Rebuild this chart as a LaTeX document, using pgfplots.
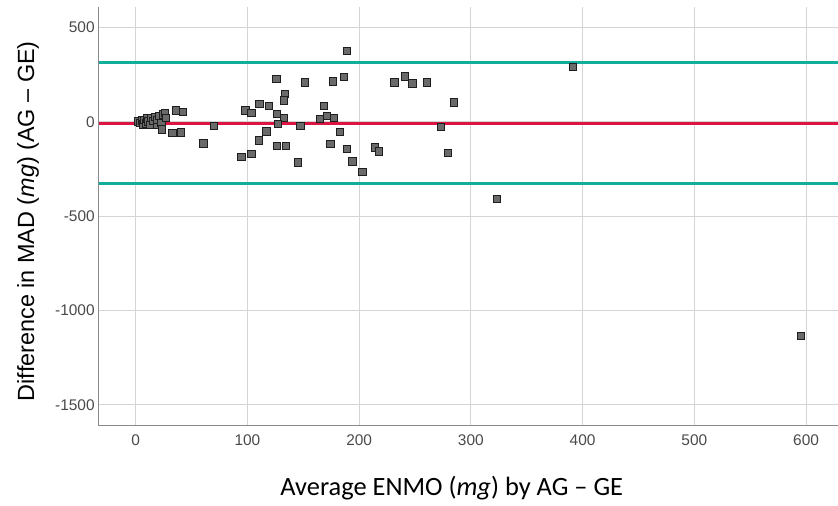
\documentclass[border=0pt]{standalone}
\usepackage{fontspec}
\setmainfont{Liberation Sans}
\newfontfamily\calibri{Carlito}
\usepackage{pgfplots}
\pgfplotsset{compat=1.18}
\definecolor{markfill}{HTML}{6A6A6A}
\definecolor{markedge}{HTML}{1E1E1E}
\definecolor{meanred}{HTML}{DC1443}
\definecolor{loateal}{HTML}{12AD9B}
\definecolor{gridgray}{HTML}{D4D4D4}
\definecolor{axisgray}{HTML}{8A8A8A}
\definecolor{ticktext}{HTML}{4A4A4A}
\begin{document}
\begin{tikzpicture}
\path[use as bounding box] (-98.7bp,-80.3bp) rectangle (739.3bp,425.7bp);
\begin{axis}[
  at={(0,0)}, anchor=south west,
  scale only axis, width=739.3bp, height=419bp,
  xmin=-33.1, xmax=628.6, ymin=-1610, ymax=611,
  axis lines*=left,
  axis line style={axisgray, line width=1.3bp},
  xtick={0,100,200,300,400,500,600},
  ytick={-1500,-1000,-500,0,500},
  major tick length=0pt,
  grid=major,
  major grid style={gridgray, line width=1bp},
  /pgf/number format/assume math mode=true,
  /pgf/number format/1000 sep={},
  tick label style={font=\fontsize{15.5}{18}\selectfont, text=ticktext},
  xticklabel style={yshift=-5bp},
  yticklabel style={xshift=-0.5bp},
  xlabel={\calibri Average ENMO (\textit{mg}) by AG – GE},
  xlabel style={font=\fontsize{26.5}{30}\selectfont, at={([xshift=-16.6bp,yshift=-62.3bp]axis description cs:0.5,0)}, anchor=center},
  ylabel={Difference in MAD (\textit{mg}) (AG – GE)},
  ylabel style={font=\fontsize{23.5}{28}\selectfont, at={([xshift=-70.7bp,yshift=-5bp]axis description cs:0,0.5)}, anchor=center},
  clip=false,
]
\addplot[only marks, mark=square*, mark size=3.7bp,
  mark options={fill=markfill, draw=markedge, line width=0.9bp}]
coordinates {
(2.5,3) (4,-5) (5.5,8) (6.8,-14) (8,12) (9.5,-8) (10,18) (11.5,2)
(12.8,-16) (14,22) (15.8,5) (17,28) (18.8,-16) (19.5,10) (21,32)
(23,-4) (23.3,-40) (24.5,40) (26,48) (27,20) (33,-58) (36,60)
(40.5,-55) (42.5,53)
(189.1,376) (125.9,228) (151.5,210) (176.3,214) (186.4,240)
(231.5,210) (241.0,242) (247.6,205) (260.5,210) (284.6,104)
(133.4,147) (132.5,115) (110.6,95) (119.3,85) (98.1,60)
(103.5,49) (126.2,42) (132.5,20) (127.4,-11) (147.3,-20)
(168.3,85) (171.2,33) (164.7,16) (177.2,20) (182.6,-53)
(70.1,-21) (60.5,-113) (116.9,-51) (110.1,-99) (126.2,-126)
(134.3,-127) (94.5,-184) (103.5,-170) (145.0,-214) (174.2,-117)
(188.9,-143) (193.9,-210) (202.8,-265) (213.9,-136) (217.5,-157)
(273.0,-27) (279.5,-164) (323.4,-408) (391.3,292) (595.5,-1133)
};
\addplot[meanred, line width=3bp] coordinates {(-33.1,-6) (628.6,-6)};
\addplot[loateal, line width=3bp] coordinates {(-33.1,316) (628.6,316)};
\addplot[loateal, line width=3bp] coordinates {(-33.1,-328) (628.6,-328)};
\end{axis}
\end{tikzpicture}
\end{document}
